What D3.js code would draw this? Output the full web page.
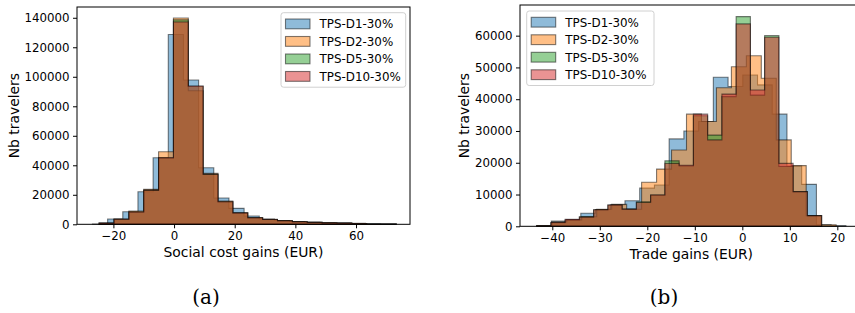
<!DOCTYPE html>
<html>
<head>
<meta charset="utf-8">
<script src="https://cdn.jsdelivr.net/npm/d3@7"></script>
<style>
  body { margin: 0; background: #fff; }
  text { fill: #000; }
</style>
</head>
<body>
<div class="figure"></div>
<script>
const seriesNames = ['TPS-D1-30%', 'TPS-D2-30%', 'TPS-D5-30%', 'TPS-D10-30%'];
const seriesColors = ['#1f77b4', '#ff7f0e', '#2ca02c', '#d62728'];

// (a) social cost gains : 20 bins per series between its min and max
const socialMin = [-26.9, -24.7, -24.7, -24.7];
const socialMax = [73.1, 73.3, 73.3, 73.3];
const socialD1 = [150, 3600, 8500, 22100, 45100, 128700, 97800, 38300, 17800, 10800, 5600, 3600, 2600, 1900, 1400, 1100, 900, 600, 300, 150];
const socialD2 = [900, 3500, 9000, 23700, 49200, 139800, 90500, 34500, 15800, 7900, 4500, 3400, 2500, 1800, 1350, 1050, 850, 550, 250, 100];
const socialD5 = [800, 3400, 8300, 23200, 45000, 138600, 93600, 34000, 15300, 7700, 4400, 3300, 2400, 1750, 1300, 1000, 800, 550, 250, 100];
const socialD10 = [800, 3400, 8300, 23000, 45100, 137200, 93700, 33800, 15300, 7700, 4400, 3300, 2400, 1750, 1300, 1000, 800, 550, 250, 100];
const socialXTicks = [-20, 0, 20, 40, 60];
const socialYTicks = [0, 20000, 40000, 60000, 80000, 100000, 120000, 140000];

// (b) trade gains
const tradeMin = [-40.2, -43.25, -43.3, -43.3];
const tradeMax = [21.8, 19.75, 16.7, 16.7];
const tradeD1 = [1670, 2100, 4100, 5300, 6800, 8050, 12000, 13000, 27500, 30000, 33000, 46900, 44000, 47600, 44500, 35300, 19000, 13200, 500, 200];
const tradeD2 = [200, 1400, 2000, 3000, 5350, 6900, 5350, 13850, 18000, 24000, 35300, 33000, 43600, 50200, 53700, 46600, 27200, 19100, 3350, 500];
const tradeD5 = [200, 1100, 2000, 3000, 5200, 6700, 5400, 7750, 9850, 20600, 19000, 34800, 28700, 40800, 66000, 41300, 60000, 18800, 10900, 3350];
const tradeD10 = [200, 1200, 2200, 2900, 5200, 6700, 5400, 7500, 9850, 19800, 19200, 35300, 27200, 41600, 63700, 42900, 59500, 19800, 10900, 3350];
const tradeXTicks = [-40, -30, -20, -10, 0, 10, 20];
const tradeYTicks = [0, 10000, 20000, 30000, 40000, 50000, 60000];

const width = 855;
const height = 313;

const svg = d3.select('.figure')
  .append('svg')
  .attr('width', width)
  .attr('height', height)
  .style('font-family', '"DejaVu Sans", sans-serif');

function drawPanel(p) {
  const x = d3.scaleLinear().domain(p.xDomain).range([p.left, p.right]);
  const y = d3.scaleLinear().domain(p.yDomain).range([p.bottom, p.top]);
  const g = svg.append('g');

  // step-filled histograms, drawn in order
  const line = d3.line().x(d => x(d[0])).y(d => y(d[1]));
  p.counts.forEach((counts, s) => {
    const n = counts.length;
    const edges = d3.range(n + 1).map(i => p.mins[s] + i * (p.maxs[s] - p.mins[s]) / n);
    const pts = [[edges[0], 0]];
    counts.forEach((c, i) => { pts.push([edges[i], c]); pts.push([edges[i + 1], c]); });
    pts.push([edges[n], 0]);
    g.append('path')
      .attr('d', line(pts) + 'Z')
      .attr('fill', seriesColors[s])
      .attr('fill-opacity', 0.5)
      .attr('stroke', '#000')
      .attr('stroke-opacity', 0.5)
      .attr('stroke-width', 1.1);
  });

  // axes
  const xAxis = g.append('g')
    .attr('transform', `translate(0,${p.bottom})`)
    .call(d3.axisBottom(x).tickValues(p.xTicks).tickFormat(d3.format('d')).tickSize(4).tickPadding(3.5));
  const yAxis = g.append('g')
    .attr('transform', `translate(${p.left},0)`)
    .call(d3.axisLeft(y).tickValues(p.yTicks).tickFormat(d3.format('d')).tickSize(4).tickPadding(3.5));
  [xAxis, yAxis].forEach(a => {
    a.select('.domain').remove();
    a.selectAll('line').attr('stroke', '#000').attr('stroke-width', 1);
    a.selectAll('text').attr('font-family', 'DejaVu Sans').attr('font-size', '11.8px').attr('fill', '#000');
  });

  // frame
  g.append('rect')
    .attr('x', p.left).attr('y', p.top)
    .attr('width', p.right - p.left).attr('height', p.bottom - p.top)
    .attr('fill', 'none').attr('stroke', '#000').attr('stroke-width', 1);

  // labels
  g.append('text')
    .attr('x', (p.left + p.right) / 2)
    .attr('y', p.bottom + 33)
    .attr('text-anchor', 'middle')
    .attr('font-size', '13.9px')
    .text(p.xLabel);
  g.append('text')
    .attr('transform', `translate(${p.yLabelX},${(p.top + p.bottom) / 2}) rotate(-90)`)
    .attr('text-anchor', 'middle')
    .attr('font-size', '13.9px')
    .text('Nb travelers');

  // legend
  const lg = g.append('g').attr('transform', `translate(${p.legend[0]},${p.legend[1]})`);
  lg.append('rect')
    .attr('width', p.legend[2]).attr('height', 74.5)
    .attr('rx', 2.5)
    .attr('fill', '#fff').attr('fill-opacity', 0.8)
    .attr('stroke', '#d0d0d0').attr('stroke-width', 1);
  seriesNames.forEach((name, i) => {
    const row = lg.append('g').attr('transform', `translate(0,${11.3 + i * 17.5})`);
    row.append('rect')
      .attr('x', 4.5).attr('y', -5).attr('width', 24.5).attr('height', 9.8)
      .attr('fill', seriesColors[i]).attr('fill-opacity', 0.5)
      .attr('stroke', '#000').attr('stroke-opacity', 0.5).attr('stroke-width', 1.1);
    row.append('text')
      .attr('x', 38.5).attr('y', 4.3)
      .attr('font-size', '11.9px')
      .text(name);
  });

  // caption
  svg.append('text')
    .attr('x', p.captionX).attr('y', 304)
    .attr('text-anchor', 'middle')
    .style('font-family', '"DejaVu Serif", serif')
    .attr('font-size', '20px')
    .text(p.caption);
}

drawPanel({
  left: 77, right: 410, top: 7, bottom: 224.3,
  xDomain: [-32, 77.8], yDomain: [0, 147300],
  mins: socialMin, maxs: socialMax,
  counts: [socialD1, socialD2, socialD5, socialD10],
  xTicks: socialXTicks, yTicks: socialYTicks,
  xLabel: 'Social cost gains (EUR)', yLabelX: 19,
  legend: [281, 12.7, 124.7],
  caption: '(a)', captionX: 206
});

drawPanel({
  left: 520, right: 862.5, top: 5, bottom: 226.3,
  xDomain: [-46.8, 25.3], yDomain: [0, 69650],
  mins: tradeMin, maxs: tradeMax,
  counts: [tradeD1, tradeD2, tradeD5, tradeD10],
  xTicks: tradeXTicks, yTicks: tradeYTicks,
  xLabel: 'Trade gains (EUR)', yLabelX: 469,
  legend: [526.7, 11, 127.3],
  caption: '(b)', captionX: 664
});
</script>
</body>
</html>
